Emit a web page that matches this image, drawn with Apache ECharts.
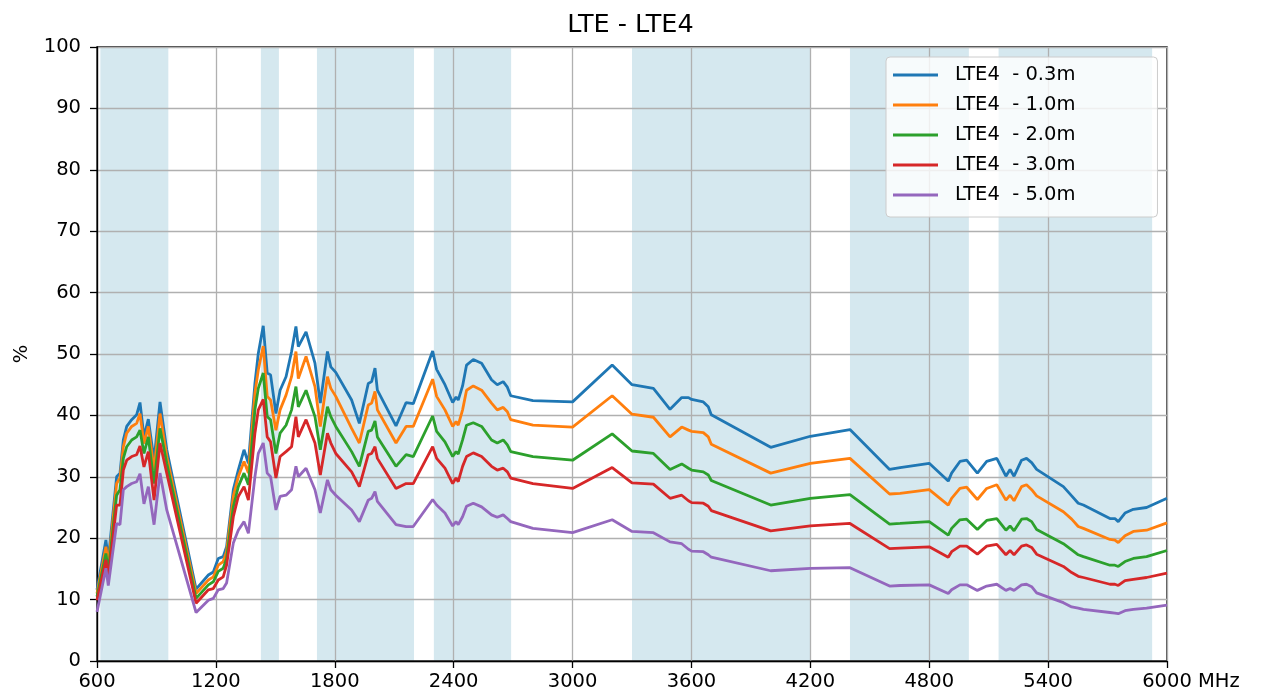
<!DOCTYPE html>
<html>
<head>
<meta charset="utf-8">
<script src="https://cdn.jsdelivr.net/npm/echarts@6/dist/echarts.min.js"></script>
<style>
  html, body { margin: 0; padding: 0; background: #fff; }
  #main { width: 1261px; height: 697px; }
</style>
</head>
<body>
<div id="main"></div>
<script>
// frequency points (MHz), shared by every curve
var freqs = [600, 645, 657, 699, 716, 733, 750, 775, 800, 817,
    837, 859, 888, 918, 952, 1100, 1162, 1187, 1212, 1237,
    1254, 1288, 1313, 1342, 1364, 1397, 1414, 1439, 1459, 1476,
    1503, 1524, 1554, 1582, 1604, 1616, 1655, 1700, 1727, 1763,
    1780, 1805, 1885, 1924, 1969, 1986, 2003, 2015, 2109, 2160,
    2196, 2294, 2314, 2356, 2395, 2412, 2423, 2445, 2465, 2499,
    2541, 2591, 2620, 2650, 2671, 2688, 2800, 3000, 3200, 3300,
    3408, 3492, 3551, 3585, 3601, 3660, 3685, 3700, 4000, 4200,
    4400, 4600, 4653, 4800, 4896, 4913, 4955, 4989, 5043, 5090,
    5141, 5187, 5208, 5228, 5266, 5291, 5317, 5342, 5477, 5519,
    5552, 5578, 5712, 5737, 5754, 5788, 5830, 5897, 6000];

var lte03 = [11.6, 19.7, 16.5, 30.0, 30.6, 36.0, 38.2, 39.3, 40.1, 42.1,
    36.5, 39.4, 32.7, 42.2, 34.4, 11.7, 14.0, 14.5, 16.7, 17.0,
    18.6, 27.9, 31.1, 34.4, 32.2, 45.2, 50.1, 54.6, 46.9, 46.6,
    40.3, 44.1, 46.3, 50.4, 54.5, 51.2, 53.6, 48.5, 42.0, 50.4,
    47.9, 47.0, 42.5, 38.7, 45.2, 45.5, 47.7, 44.1, 38.3, 42.1,
    41.9, 50.5, 47.5, 45.0, 42.1, 43.0, 42.5, 44.8, 48.2, 49.1,
    48.5, 45.8, 45.0, 45.5, 44.6, 43.2, 42.4, 42.2, 48.2, 45.0,
    44.4, 41.0, 42.9, 42.9, 42.6, 42.2, 41.4, 40.1, 34.8, 36.6,
    37.7, 31.2, 31.5, 32.2, 29.3, 30.6, 32.5, 32.7, 30.6, 32.5,
    33.0, 30.1, 31.2, 30.1, 32.7, 33.0, 32.3, 31.2, 28.4, 26.9,
    25.7, 25.4, 23.2, 23.2, 22.7, 24.1, 24.7, 25.0, 26.5];

var lte10 = [11.0, 18.6, 15.5, 28.9, 29.8, 34.9, 37.1, 38.2, 38.7, 40.3,
    35.4, 38.2, 31.1, 40.3, 33.3, 11.0, 13.2, 13.7, 15.6, 16.2,
    17.8, 26.8, 30.0, 32.5, 30.6, 43.6, 47.4, 51.3, 43.1, 42.5,
    37.6, 40.9, 43.3, 46.3, 50.4, 46.0, 49.6, 44.7, 38.2, 46.3,
    44.4, 43.1, 37.9, 35.5, 41.7, 42.0, 43.9, 40.9, 35.5, 38.2,
    38.2, 45.9, 43.1, 40.9, 38.2, 39.0, 38.4, 40.9, 44.1, 44.8,
    44.1, 42.0, 40.9, 41.3, 40.6, 39.3, 38.4, 38.1, 43.2, 40.2,
    39.7, 36.5, 38.1, 37.6, 37.4, 37.2, 36.5, 35.3, 30.6, 32.2,
    33.0, 27.2, 27.3, 27.9, 25.4, 26.5, 28.1, 28.3, 26.3, 28.1,
    28.7, 26.2, 27.0, 26.1, 28.4, 28.7, 27.9, 26.9, 24.3, 23.1,
    21.9, 21.6, 19.8, 19.7, 19.3, 20.4, 21.1, 21.3, 22.5];

var lte20 = [10.5, 17.5, 14.5, 27.0, 27.9, 33.0, 34.9, 36.0, 36.5, 37.6,
    33.8, 36.5, 28.9, 37.9, 32.2, 10.2, 12.4, 12.9, 14.6, 15.1,
    16.7, 25.1, 28.4, 30.6, 28.7, 40.9, 44.4, 46.9, 39.8, 39.3,
    33.8, 37.1, 38.4, 40.9, 44.7, 41.4, 44.1, 39.8, 34.4, 41.4,
    39.8, 38.2, 34.1, 31.7, 37.4, 37.6, 39.1, 36.5, 31.7, 33.6,
    33.3, 39.9, 37.4, 35.7, 33.3, 34.1, 33.7, 36.0, 38.4, 38.8,
    38.2, 36.0, 35.5, 36.0, 35.2, 34.1, 33.3, 32.7, 37.0, 34.2,
    33.8, 31.2, 32.1, 31.4, 31.1, 30.8, 30.3, 29.4, 25.4, 26.5,
    27.1, 22.3, 22.4, 22.7, 20.5, 21.6, 23.0, 23.1, 21.4, 22.9,
    23.2, 21.3, 22.0, 21.2, 23.1, 23.2, 22.7, 21.4, 19.1, 18.1,
    17.3, 17.0, 15.6, 15.6, 15.4, 16.2, 16.7, 17.0, 18.0];

var lte30 = [9.9, 16.5, 13.5, 25.4, 25.4, 31.1, 32.7, 33.3, 33.6, 35.0,
    31.6, 34.1, 26.2, 35.5, 30.6, 9.4, 11.6, 11.8, 13.2, 13.7,
    15.6, 23.5, 26.8, 28.4, 26.2, 37.1, 40.9, 42.6, 36.5, 35.7,
    29.8, 33.3, 34.1, 34.9, 39.8, 36.5, 39.3, 35.5, 30.3, 37.1,
    35.5, 33.8, 30.8, 28.4, 33.6, 33.8, 34.9, 33.0, 28.1, 28.9,
    28.9, 34.9, 33.0, 31.4, 28.9, 29.8, 29.2, 31.7, 33.3, 33.9,
    33.3, 31.7, 31.1, 31.4, 30.8, 29.8, 28.9, 28.1, 31.5, 29.0,
    28.8, 26.5, 27.0, 26.1, 25.8, 25.7, 25.2, 24.5, 21.2, 22.0,
    22.4, 18.3, 18.4, 18.6, 16.9, 17.8, 18.7, 18.7, 17.4, 18.7,
    19.0, 17.3, 18.0, 17.3, 18.7, 18.9, 18.5, 17.4, 15.4, 14.4,
    13.8, 13.6, 12.5, 12.5, 12.3, 13.1, 13.3, 13.6, 14.3];

var lte50 = [8.0, 15.1, 12.3, 22.4, 22.2, 27.9, 28.4, 28.9, 29.2, 30.5,
    25.6, 28.4, 22.2, 30.6, 24.6, 7.9, 9.9, 10.2, 11.6, 11.8,
    12.7, 19.2, 21.3, 22.7, 20.8, 30.0, 33.8, 35.5, 30.6, 30.0,
    24.6, 26.8, 27.0, 27.9, 31.7, 30.0, 31.4, 27.9, 24.1, 29.5,
    27.9, 27.0, 24.6, 22.7, 26.2, 26.5, 27.6, 26.0, 22.2, 21.9,
    21.9, 26.3, 25.4, 24.1, 22.0, 22.7, 22.2, 23.5, 25.2, 25.7,
    25.1, 23.8, 23.4, 23.8, 23.2, 22.7, 21.6, 20.9, 23.0, 21.1,
    20.9, 19.4, 19.1, 18.2, 17.9, 17.8, 17.3, 16.9, 14.7, 15.1,
    15.2, 12.2, 12.3, 12.4, 11.0, 11.6, 12.4, 12.4, 11.5, 12.2,
    12.5, 11.5, 11.8, 11.5, 12.4, 12.5, 12.1, 11.1, 9.5, 8.8,
    8.6, 8.4, 7.9, 7.8, 7.7, 8.2, 8.4, 8.6, 9.1];

var seriesNames = ['LTE4  - 0.3m', 'LTE4  - 1.0m', 'LTE4  - 2.0m', 'LTE4  - 3.0m', 'LTE4  - 5.0m'];
var seriesData = [lte03, lte10, lte20, lte30, lte50];
var colors = ['#1f77b4', '#ff7f0e', '#2ca02c', '#d62728', '#9467bd'];

// LTE band ranges (shaded)
var bandStart = [617, 1427, 1710, 2300, 3300, 4400, 5150];
var bandEnd = [960, 1518, 2200, 2690, 4200, 5000, 5925];

var font = 'DejaVu Sans';

function pairs(vals) {
    var out = [];
    for (var i = 0; i < freqs.length; i++) {
        out.push([freqs[i], vals[i]]);
    }
    return out;
}

var bands = [];
for (var b = 0; b < bandStart.length; b++) {
    bands.push([{ xAxis: bandStart[b] }, { xAxis: bandEnd[b] }]);
}

var series = [{
    type: 'line',
    name: 'bands',
    data: [],
    silent: true,
    z: -1,
    markArea: {
        silent: true,
        z: -1,
        itemStyle: { color: '#d5e8ef' },
        data: bands
    }
}];
for (var s = 0; s < seriesData.length; s++) {
    series.push({
        type: 'line',
        name: seriesNames[s],
        data: pairs(seriesData[s]),
        showSymbol: false,
        color: colors[s],
        lineStyle: { width: 2.8, color: colors[s] }
    });
}

function plain(v) {
    return String(v);
}

var chart = echarts.init(document.getElementById('main'));
chart.setOption({
    animation: false,
    backgroundColor: '#fff',
    textStyle: { fontFamily: font },
    title: {
        text: 'LTE - LTE4',
        left: 'center',
        top: 7,
        textStyle: { fontFamily: font, fontSize: 25.5, fontWeight: 'normal', color: '#000' }
    },
    grid: {
        left: 97, right: 94, top: 47, bottom: 36,
        containLabel: false,
        outerBoundsMode: 'none',
        show: true,
        borderColor: '#000',
        borderWidth: 1.3
    },
    legend: {
        data: seriesNames,
        orient: 'vertical',
        left: 886,
        top: 57,
        icon: 'rect',
        itemWidth: 45,
        itemHeight: 3,
        itemGap: 10,
        padding: [8, 82, 12, 7],
        backgroundColor: 'rgba(255,255,255,0.8)',
        borderColor: '#cccccc',
        borderWidth: 1,
        borderRadius: 4,
        textStyle: { fontFamily: font, fontSize: 19.5, lineHeight: 20, color: '#000', padding: [0, 0, 0, 12] }
    },
    xAxis: {
        type: 'value',
        min: 600,
        max: 6000,
        interval: 600,
        name: 'MHz',
        nameLocation: 'end',
        nameGap: 31,
        nameTextStyle: { fontFamily: font, fontSize: 19.5, color: '#000', verticalAlign: 'top', padding: [11, 0, 0, 0] },
        axisLine: { lineStyle: { color: '#000', width: 1.3 } },
        axisTick: { length: 7, lineStyle: { color: '#000', width: 1.3 } },
        axisLabel: { fontFamily: font, fontSize: 19.5, color: '#000', margin: 11, formatter: plain },
        splitLine: { show: true, lineStyle: { color: '#b0b0b0', width: 1.3 } }
    },
    yAxis: {
        type: 'value',
        min: 0,
        max: 100,
        interval: 10,
        name: '%',
        nameLocation: 'middle',
        nameGap: 65,
        nameTextStyle: { fontFamily: font, fontSize: 19.5, color: '#000' },
        axisLine: { show: true, lineStyle: { color: '#000', width: 1.3 } },
        axisTick: { show: true, length: 7, lineStyle: { color: '#000', width: 1.3 } },
        axisLabel: { fontFamily: font, fontSize: 19.5, color: '#000', margin: 16, formatter: plain },
        splitLine: { show: true, lineStyle: { color: '#b0b0b0', width: 1.3 } }
    },
    series: series
});
</script>
</body>
</html>
